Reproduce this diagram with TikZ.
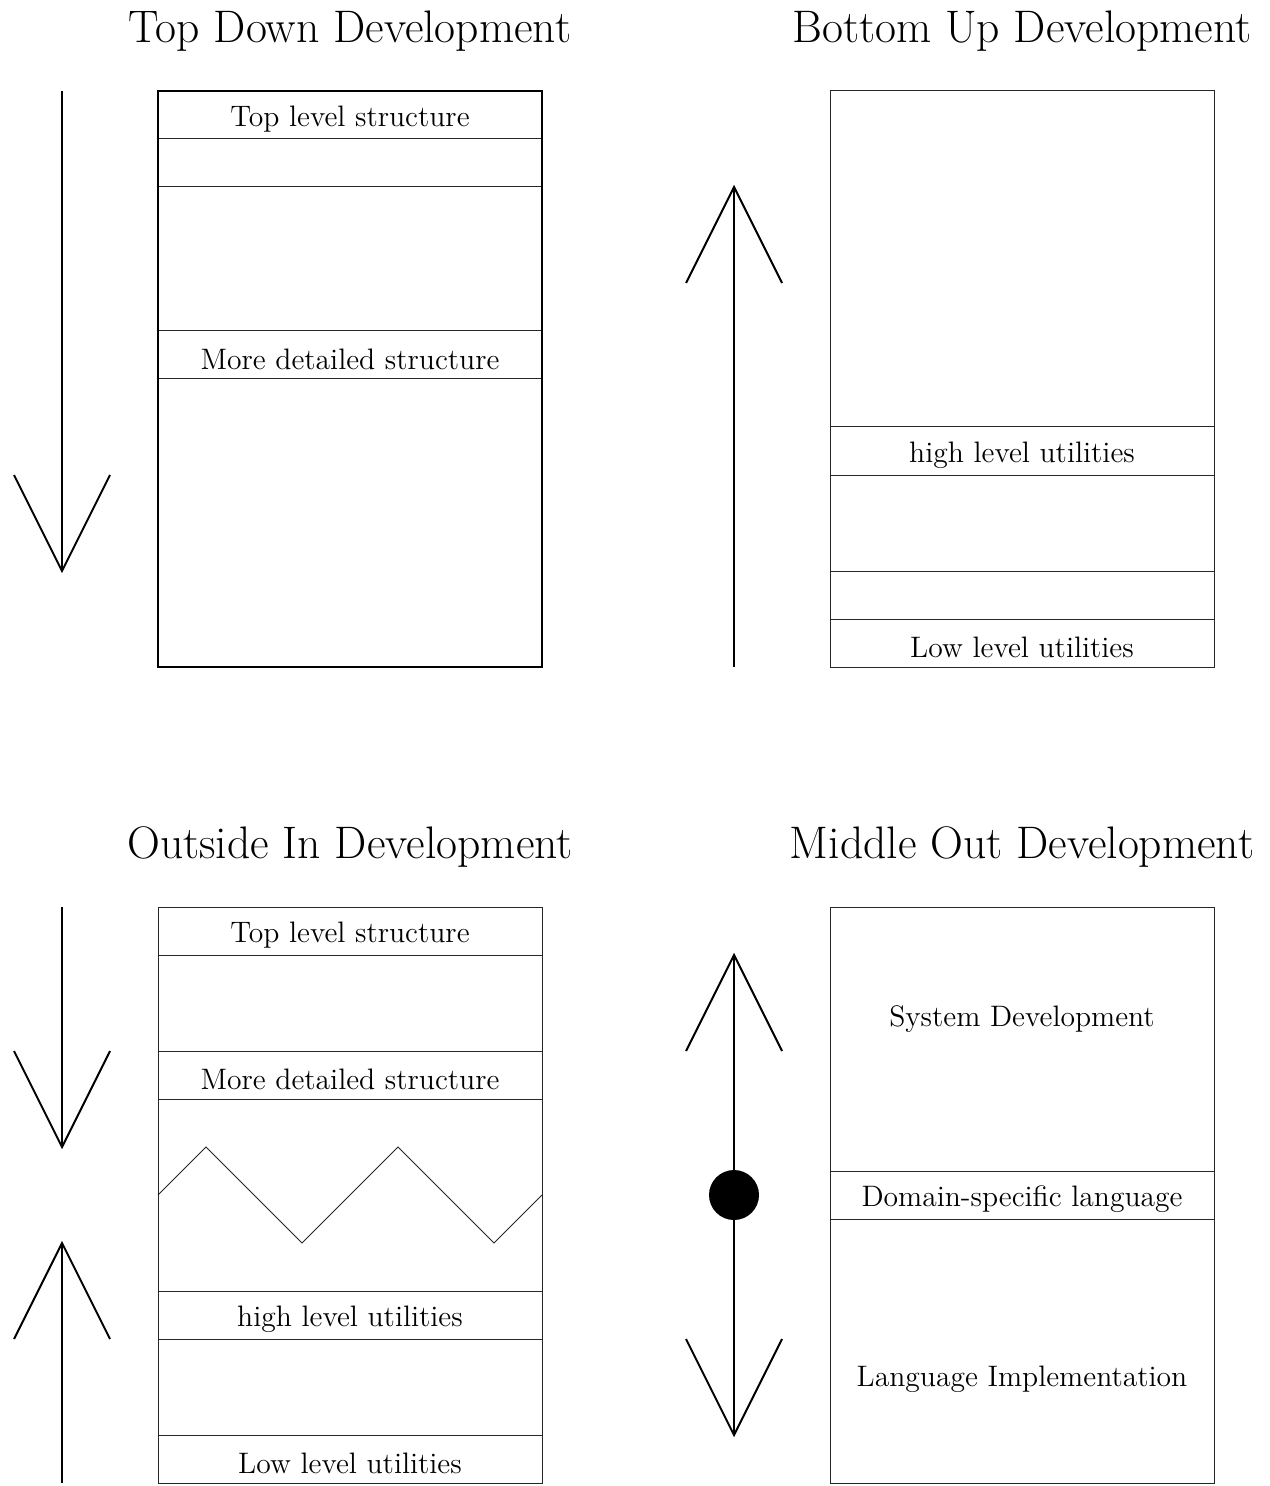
\documentclass[tikz,border=0pt]{standalone}
\begin{document}
\begin{tikzpicture}[x=0.5pt,y=-0.5pt,
  thin line/.style={line width=0.5pt,black!85},
  arrowline/.style={line width=1pt,black},
  lbl/.style={font=\fontsize{14.8}{17}\selectfont,inner sep=0pt},
  ttl/.style={font=\fontsize{22.8}{27}\selectfont,inner sep=0pt}]
\useasboundingbox (0,0) rectangle (1269,1486);
% ---------- Top Down ----------
\node[ttl] (t1) at (350,31) {Top Down Development};
\foreach \y in {139,187,331,379} \draw[thin line] (158,\y) -- (542,\y);
\draw[line width=0.8pt] (158,91) rectangle (542,667);
\node[lbl] (a1) at (350,119) {Top level structure};
\node[lbl] (a2) at (350,359) {More detailed structure};
\draw[arrowline] (62,91) -- (62,571);
\draw[arrowline] (14,475) -- (62,571) -- (110,475);
% ---------- Bottom Up ----------
\node[ttl] (t2) at (1022,31) {Bottom Up Development};
\foreach \y in {427,475,571,619} \draw[thin line] (830,\y) -- (1214,\y);
\draw[thin line] (830,91) rectangle (1214,667);
\node[lbl] (b1) at (1022,455) {high level utilities};
\node[lbl] (b2) at (1022,647) {Low level utilities};
\draw[arrowline] (734,667) -- (734,187);
\draw[arrowline] (686,283) -- (734,187) -- (782,283);
% ---------- Outside In ----------
\node[ttl] (t3) at (350,847) {Outside In Development};
\foreach \y in {955,1051,1099,1291,1339,1435} \draw[thin line] (158,\y) -- (542,\y);
\draw[thin line] (158,907) rectangle (542,1483);
\draw[thin line] (158,1195) -- (206,1147) -- (302,1243) -- (398,1147) -- (494,1243) -- (542,1195);
\node[lbl] (c1) at (350,935) {Top level structure};
\node[lbl] (c2) at (350,1079) {More detailed structure};
\node[lbl] (c3) at (350,1319) {high level utilities};
\node[lbl] (c4) at (350,1463) {Low level utilities};
\draw[arrowline] (62,907) -- (62,1147);
\draw[arrowline] (14,1051) -- (62,1147) -- (110,1051);
\draw[arrowline] (62,1483) -- (62,1243);
\draw[arrowline] (14,1339) -- (62,1243) -- (110,1339);
% ---------- Middle Out ----------
\node[ttl] (t4) at (1022,847) {Middle Out Development};
\foreach \y in {1171,1219} \draw[thin line] (830,\y) -- (1214,\y);
\draw[thin line] (830,907) rectangle (1214,1483);
\node[lbl] (d1) at (1022,1019) {System Development};
\node[lbl] (d2) at (1022,1199) {Domain-specific language};
\node[lbl] (d3) at (1022,1379) {Language Implementation};
\coordinate (mid) at (734,1195);
\draw[arrowline] (mid) -- (734,955);
\draw[arrowline] (686,1051) -- (734,955) -- (782,1051);
\draw[arrowline] (mid) -- (734,1435);
\draw[arrowline] (686,1339) -- (734,1435) -- (782,1339);
\fill (mid) circle[radius=25];
\end{tikzpicture}
\end{document}
